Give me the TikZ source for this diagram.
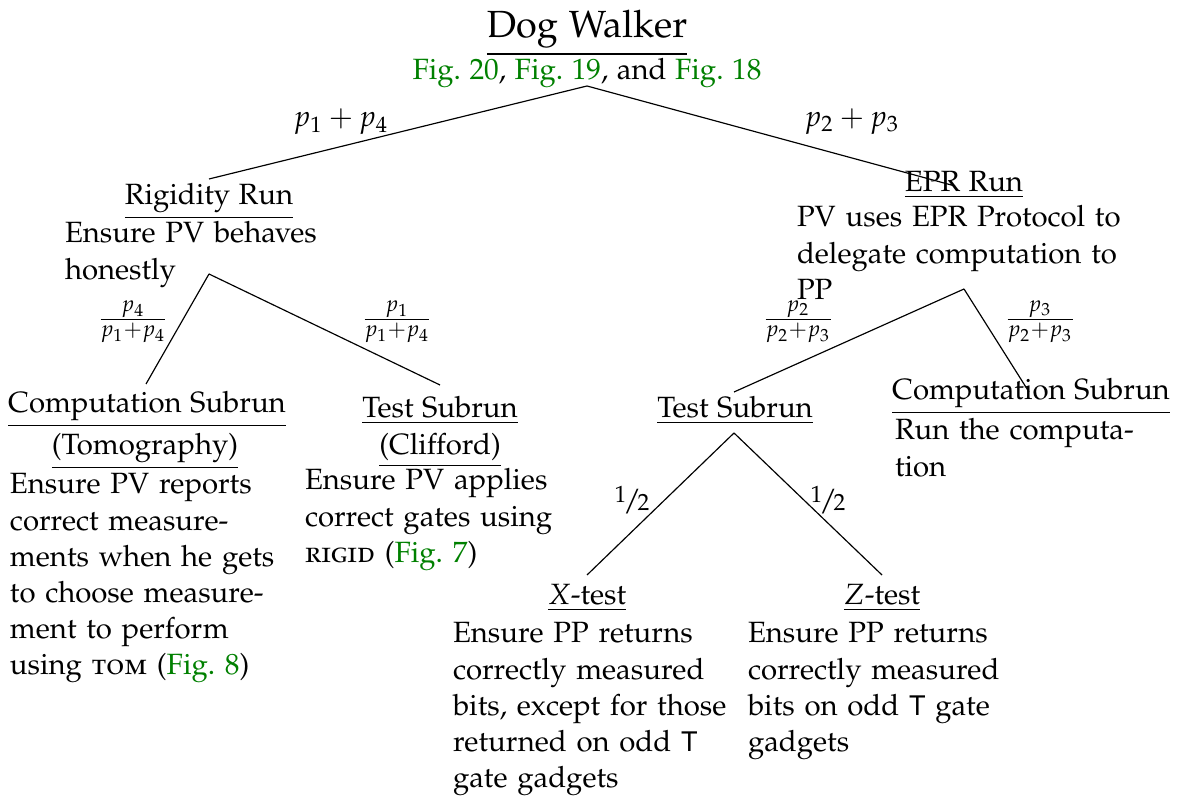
\documentclass[tikz,border=0pt]{standalone}
\usepackage[T1]{fontenc}
\usepackage[sc]{mathpazo}
\usepackage[scaled=0.92]{helvet}
\usetikzlibrary{calc}
\definecolor{figgreen}{rgb}{0,0.5,0}
\newcommand{\fref}[1]{\textcolor{figgreen}{Fig.~#1}}
\newcommand{\halfl}{\raisebox{0.6ex}{\footnotesize 1}\kern-0.1em/\kern-0.12em{\footnotesize 2}}
\begin{document}
\begin{tikzpicture}[x=0.341pt,y=-0.341pt,
  every node/.style={inner sep=0pt,outer sep=0pt,font=\fontsize{10}{12.3}\selectfont},
  title/.style={anchor=base},
  body/.style={anchor=base west,align=left,text width=150pt},
  lab/.style={anchor=center},
  link/.style={line width=0.4pt}]
\useasboundingbox (0,0) rectangle (1177,798);

% root
\node[title,font=\fontsize{12.9}{15}\selectfont] (dw) at (587,38) {\underline{Dog Walker}};
\node[title] (dwf) at (587,80) {\fref{20}, \fref{19}, and \fref{18}};

% level 1
\node[title] (rr) at (209,205) {\underline{Rigidity Run}};
\node[body] (rrb) at (65,243) {Ensure PV behaves\\honestly};
\node[title] (epr) at (964,192) {\underline{EPR Run}};
\node[body] (eprb) at (797,227) {PV uses EPR Protocol to\\delegate computation to\\PP};

% level 2 left
\node[title] (cs) at (147,413) {\underline{Computation Subrun}};
\node[title] (cst) at (145,455) {\underline{(Tomography)}};
\node[body] (csb) at (10,494) {Ensure PV reports\\correct measure-\\ments when he gets\\to choose measure-\\ment to perform\\using \textsc{tom} (\fref{8})};
\node[title] (ts) at (440,418) {\underline{Test Subrun}};
\node[title] (tsc) at (440,455) {\underline{(Clifford)}};
\node[body] (tsb) at (305,490) {Ensure PV applies\\correct gates using\\\textsc{rigid} (\fref{7})};

% level 2 right
\node[title] (ts2) at (735,418) {\underline{Test Subrun}};
\node[title] (cs2) at (1031,400) {\underline{Computation Subrun}};
\node[body] (cs2b) at (895,440) {Run the computa-\\tion};

% level 3
\node[title] (xt) at (587,605) {\underline{$X$-test}};
\node[body] (xtb) at (453,643) {Ensure PP returns\\correctly measured\\bits, except for those\\returned on odd \textsf{T}\\gate gadgets};
\node[title] (zt) at (882,605) {\underline{$Z$-test}};
\node[body] (ztb) at (748,643) {Ensure PP returns\\correctly measured\\bits on odd \textsf{T} gate\\gadgets};

% edge labels
\node[lab] (l14) at (341,122) {$p_1 + p_4$};
\node[lab] (l23) at (852,122) {$p_2 + p_3$};
\node[lab] (f4) at (133,322) {$\frac{p_4}{p_1+p_4}$};
\node[lab] (f1) at (397,322) {$\frac{p_1}{p_1+p_4}$};
\node[lab] (f2) at (798,322) {$\frac{p_2}{p_2+p_3}$};
\node[lab] (f3) at (1040,322) {$\frac{p_3}{p_2+p_3}$};
\node[lab] (h1) at (632,500) {\halfl};
\node[lab] (h2) at (828,500) {\halfl};

% connectors
\draw[link] ($(dwf.base)+(0,6)$) -- ($(rr.base)+(0,-26)$);
\draw[link] ($(dwf.base)+(0,6)$) -- ($(epr.base)+(-9,-6)$);
\draw[link] ($(rr.base)+(0,69)$) -- ($(cs.base)+(-1,-29)$);
\draw[link] ($(rr.base)+(0,69)$) -- ($(ts.base)+(0,-33)$);
\draw[link] ($(epr.base)+(0,97)$) -- ($(ts2.base)+(-1,-26)$);
\draw[link] ($(epr.base)+(0,97)$) -- ($(cs2.base)+(-2,-8)$);
\draw[link] ($(ts2.base)+(-1,15)$) -- ($(xt.base)+(0,-30)$);
\draw[link] ($(ts2.base)+(-1,15)$) -- ($(zt.base)+(0,-30)$);
\end{tikzpicture}
\end{document}
